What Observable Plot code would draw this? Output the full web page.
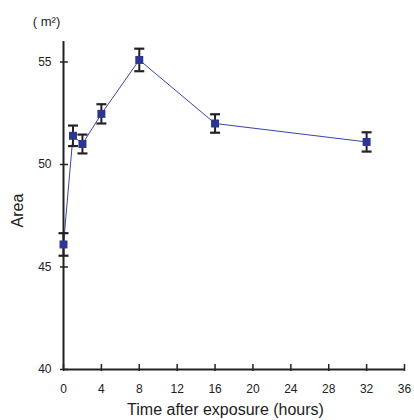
<!DOCTYPE html>
<html>
<head>
<meta charset="utf-8">
<script src="https://cdn.jsdelivr.net/npm/d3@7"></script>
<script src="https://cdn.jsdelivr.net/npm/@observablehq/plot@0.6"></script>
<style>
  body { margin: 0; background: #fff; }
  #chart svg { font-family: "Liberation Sans", Arial, sans-serif; }
</style>
</head>
<body>
<div id="chart"></div>
<script>
const hours = [0, 1, 2, 4, 8, 16, 32];
const area = [46.1, 51.4, 51.0, 52.47, 55.1, 52.0, 51.1];
const err = [0.55, 0.5, 0.46, 0.47, 0.55, 0.45, 0.47];
const xTicks = [0, 4, 8, 12, 16, 20, 24, 28, 32, 36];
const yTicks = [40, 45, 50, 55];
const xTitle = "Time after exposure (hours)";
const yTitle = "Area";
const unitLabel = "( m²)";

const data = hours.map((h, i) => ({h, a: area[i], lo: area[i] - err[i], hi: area[i] + err[i]}));

const capSymbol = {
  draw(context, size) {
    const w = 5;
    context.moveTo(-w, 0);
    context.lineTo(w, 0);
  }
};

const chart = Plot.plot({
  width: 414,
  height: 420,
  marginLeft: 63,
  marginRight: 10,
  marginTop: 41,
  marginBottom: 51,
  style: {fontSize: "12px", color: "#222", background: "#fff"},
  x: {domain: [0, 36]},
  y: {domain: [40, 56]},
  marks: [
    Plot.axisX({ticks: xTicks, tickSize: 2, tickPadding: 13, label: null, fontSize: 12, strokeWidth: 1.5}),
    Plot.axisX({ticks: xTicks, tickSize: -5, text: null, label: null, strokeWidth: 1.5}),
    Plot.axisY({ticks: yTicks, tickSize: 3, tickPadding: 9, label: null, fontSize: 12, strokeWidth: 1.5}),
    Plot.axisY({ticks: yTicks, tickSize: -5, text: null, label: null, strokeWidth: 1.5}),
    Plot.ruleX([0], {stroke: "#222", strokeWidth: 2}),
    Plot.ruleY([40], {stroke: "#222", strokeWidth: 2}),
    Plot.line(data, {x: "h", y: "a", stroke: "#3a44a6", strokeWidth: 1}),
    Plot.ruleX(data, {x: "h", y1: "lo", y2: "hi", stroke: "#222", strokeWidth: 2}),
    Plot.dot(data, {x: "h", y: "lo", symbol: capSymbol, stroke: "#222", strokeWidth: 2.2}),
    Plot.dot(data, {x: "h", y: "hi", symbol: capSymbol, stroke: "#222", strokeWidth: 2.2}),
    Plot.dot(data, {x: "h", y: "a", symbol: "square", r: 4.5, fill: "#2b3592", stroke: "none"}),
    Plot.text([xTitle], {frameAnchor: "bottom", textAnchor: "middle", lineAnchor: "middle", dx: -8.5, dy: 40, fontSize: 16, fill: "#222"}),
    Plot.text([yTitle], {frameAnchor: "left", textAnchor: "middle", lineAnchor: "middle", rotate: -90, dx: -46, dy: 5, fontSize: 16, fill: "#222"}),
    Plot.text([unitLabel], {frameAnchor: "top-left", textAnchor: "middle", lineAnchor: "middle", dx: -17, dy: -20, fontSize: 13, fill: "#222"})
  ]
});
document.getElementById("chart").append(chart);
</script>
</body>
</html>
